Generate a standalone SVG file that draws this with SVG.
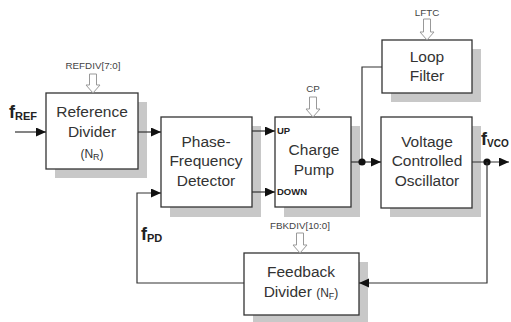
<svg xmlns="http://www.w3.org/2000/svg" width="511" height="322" viewBox="0 0 511 322">
<defs>
<style>
.sh{fill:#c8c8c8}
.bx{fill:#fff;stroke:#333;stroke-width:1.3}
.t{font-family:"Liberation Sans",Arial,sans-serif;font-size:15.5px;fill:#333;text-anchor:middle}
.ts{font-family:"Liberation Sans",Arial,sans-serif;font-size:12px;fill:#333}
.c{font-family:"Liberation Sans",Arial,sans-serif;font-size:9.8px;fill:#444;text-anchor:middle}
.pin{font-family:"Liberation Sans",Arial,sans-serif;font-size:9.5px;font-weight:bold;fill:#222}
.f{font-family:"Liberation Sans",Arial,sans-serif;font-weight:bold;fill:#222}
.ln{fill:none;stroke:#333;stroke-width:1.2}
.ha{fill:#fff;stroke:#999;stroke-width:1}
</style>
<marker id="ah" markerWidth="11" markerHeight="10" refX="10" refY="4.5" orient="auto" markerUnits="userSpaceOnUse">
<path d="M0,0 L10,4.5 L0,9 z" fill="#111"/>
</marker>
</defs>
<rect width="511" height="322" fill="#fff"/>

<g id="fref"><text class="f" x="9" y="118" font-size="18">f<tspan font-size="11" dy="2">REF</tspan></text></g>
<g id="fvco"><text class="f" x="481" y="145" font-size="18">f<tspan font-size="10" dy="2">VCO</tspan></text></g>
<g id="fpd"><text class="f" x="141" y="240" font-size="18">f<tspan font-size="11" dy="2">PD</tspan></text></g>

<g id="refdiv">
<rect class="sh" x="55" y="102" width="92" height="76"/>
<rect class="bx" x="46" y="93" width="92" height="76"/>
<text class="t" x="92" y="117">Reference</text>
<text class="t" x="92" y="137">Divider</text>
<text class="ts" x="92" y="158" text-anchor="middle">(N<tspan font-size="9" dy="2">R</tspan><tspan dy="-2">)</tspan></text>
<text class="c" x="93" y="69">REFDIV[7:0]</text>
<polygon class="ha" points="89.5,74 96.5,74 96.5,85 100,85 93,93 86,85 89.5,85"/>
</g>

<g id="pfd">
<rect class="sh" x="170" y="126" width="91" height="91"/>
<rect class="bx" x="161" y="117" width="91" height="90"/>
<text class="t" x="206" y="147">Phase-</text>
<text class="t" x="206" y="166">Frequency</text>
<text class="t" x="206" y="186">Detector</text>
</g>

<g id="cp">
<rect class="sh" x="284" y="126" width="76" height="91"/>
<rect class="bx" x="275" y="117" width="76" height="90"/>
<text class="t" x="314" y="155">Charge</text>
<text class="t" x="314" y="175">Pump</text>
<text class="pin" x="277" y="134">UP</text>
<text class="pin" x="277" y="195">DOWN</text>
<text class="c" x="313" y="92">CP</text>
<polygon class="ha" points="309.5,97 316.5,97 316.5,109 320,109 313,117 306,109 309.5,109"/>
</g>

<g id="lf">
<rect class="sh" x="391" y="49" width="90" height="53"/>
<rect class="bx" x="382" y="40" width="90" height="53"/>
<text class="t" x="427" y="62">Loop</text>
<text class="t" x="427" y="81">Filter</text>
<text class="c" x="427" y="16">LFTC</text>
<polygon class="ha" points="423.5,19 430.5,19 430.5,32 434,32 427,40 420,32 423.5,32"/>
</g>

<g id="vco">
<rect class="sh" x="390" y="126" width="91" height="91"/>
<rect class="bx" x="381" y="117" width="91" height="91"/>
<text class="t" x="427" y="147">Voltage</text>
<text class="t" x="427" y="166">Controlled</text>
<text class="t" x="427" y="186">Oscillator</text>
</g>

<g id="fbdiv">
<rect class="sh" x="253" y="262" width="115" height="62"/>
<rect class="bx" x="244" y="253" width="115" height="62"/>
<text class="t" x="301" y="277">Feedback</text>
<text class="t" x="301" y="297">Divider <tspan font-size="12">(N<tspan font-size="9" dy="2">F</tspan><tspan dy="-2">)</tspan></tspan></text>
<text class="c" x="300" y="229">FBKDIV[10:0]</text>
<polygon class="ha" points="296.5,233 303.5,233 303.5,245 307,245 300,253 293,245 296.5,245"/>
</g>

<g id="connectors">
<line class="ln" x1="15" y1="132" x2="46" y2="132" marker-end="url(#ah)"/>
<line class="ln" x1="138" y1="132" x2="161" y2="132" marker-end="url(#ah)"/>
<line class="ln" x1="252" y1="131" x2="275" y2="131" marker-end="url(#ah)"/>
<line class="ln" x1="252" y1="192" x2="275" y2="192" marker-end="url(#ah)"/>
<line class="ln" x1="351" y1="162" x2="381" y2="162" marker-end="url(#ah)"/>
<polyline class="ln" points="382,67 362,67 362,162"/>
<circle cx="362" cy="162" r="3.6" fill="#111"/>
<line class="ln" x1="472" y1="162" x2="509" y2="162" marker-end="url(#ah)"/>
<circle cx="487" cy="162" r="3.6" fill="#111"/>
<polyline class="ln" points="487,162 487,283 359,283" marker-end="url(#ah)"/>
<polyline class="ln" points="244,283 137,283 137,193 161,193" marker-end="url(#ah)"/>
</g>
</svg>
